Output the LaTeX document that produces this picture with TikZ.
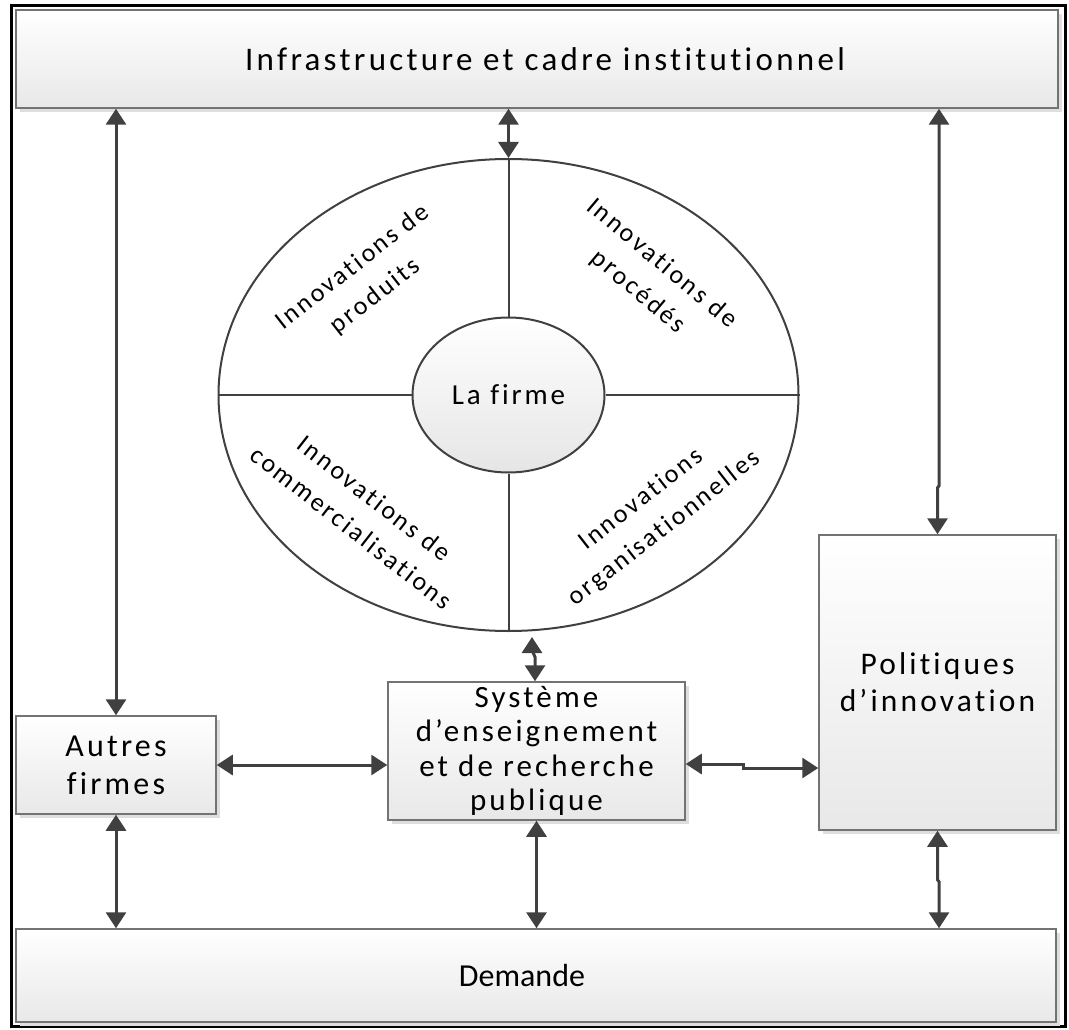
\documentclass[tikz,border=0pt]{standalone}
\usepackage{fontspec}
\setmainfont{Carlito}[LetterSpace=10, Ligatures=NoCommon]
\newfontfamily\plainfont{Carlito}[Ligatures=NoCommon]
\usetikzlibrary{arrows.meta,shapes.geometric,shadows,calc}

\begin{document}
\begin{tikzpicture}[x=1pt,y=-1pt,
  box/.style={draw=black!55, line width=1.5pt, shading=axis, top color=white,
    bottom color=black!9, inner sep=0pt, align=center,
    font=\fontsize{31}{36}\selectfont,
    drop shadow={shadow xshift=4pt, shadow yshift=-4pt, fill=black!13, opacity=1}},
  arr/.style={{Triangle[length=16pt,width=20pt]}-{Triangle[length=16pt,width=20pt]},
    line width=3pt, draw=black!75},
  rim/.style={draw=black!75, line width=2pt},
  quad/.style={align=center, inner sep=0pt, font=\fontsize{26}{37}\selectfont}
]
\useasboundingbox (0,0) rectangle (1069,1030);

% outer frame
\draw[line width=3pt] (11.5,6) rectangle (1065.5,1026.5);

% boxes
\node[box, minimum width=1042, minimum height=98, font=\fontsize{33}{36}\selectfont]
  (infra) at (537,59) {\hspace*{16pt}Infrastructure et cadre institutionnel};
\node[box, minimum width=1040, minimum height=93, font=\plainfont\fontsize{32}{36}\selectfont]
  (dem) at (536,975.5) {Demande\hspace*{28pt}};
\node[box, minimum width=200, minimum height=98, font=\fontsize{32}{38}\selectfont]
  (autres) at (116,765) {Autres\\firmes};
\node[box, minimum width=297, minimum height=138, font=\fontsize{31}{34.5}\selectfont]
  (sys) at (536.5,751) {Système\\d’enseignement\\et de recherche\\publique};
\node[box, minimum width=237, minimum height=295, font=\fontsize{31.5}{37}\selectfont]
  (pol) at (937.5,682.5) {Politiques\\d’innovation};

% the firm and its four kinds of innovation
\node[rim, ellipse, fill=white, minimum width=580, minimum height=472, inner sep=0pt]
  (big) at (508.5,395) {};
\node[rim, ellipse, shading=axis, top color=white, bottom color=black!10,
  minimum width=192, minimum height=155, inner sep=0pt,
  font=\fontsize{29}{32}\selectfont] (firme) at (508.5,395) {La firme};
\draw[rim] (big.north) -- (firme.north);
\draw[rim] (firme.south) -- (big.south);
\draw[rim] (big.west) -- (firme.west);
\draw[rim] (firme.east) -- (big.east);

\node[quad, rotate=38] (q1) at (364,282) {Innovations de\\produits};
\node[quad, rotate=-40] (q2) at (650,278) {Innovations de\\procédés};
\node[quad, rotate=-38] (q3) at (363,513) {Innovations de\\commercialisations};
\node[quad, rotate=38] (q4) at (653,514) {Innovations\\organisationnelles};

% connectors
\coordinate (es) at (532,637);
\draw[arr] (infra.south -| autres.north) -- (autres.north);
\draw[arr] (infra.south -| big.north) -- (big.north);
\draw[arr] ($(infra.south -| pol.north)+(1.5,0)$) -- ++(0,377) -- ++(-1.5,2) -- (pol.north);
\draw[arr] (es) -- ++(0,13) -- ++(3,7) -- ($(sys.north)+(-1.5,0)$);
\draw[arr] (autres.east) -- (sys.west |- autres.east);
\draw[arr] ($(sys.east)+(0,13)$) -- ++(58,0) -- ++(0,4) -- ($(pol.west)+(0,85.5)$);
\draw[arr] (autres.south) -- (autres.south |- dem.north);
\draw[arr] (sys.south) -- (sys.south |- dem.north);
\draw[arr] (pol.south) -- ++(0,49) -- ++(1.5,2) -- ($(dem.north -| pol.south)+(1.5,0)$);
\end{tikzpicture}
\end{document}
